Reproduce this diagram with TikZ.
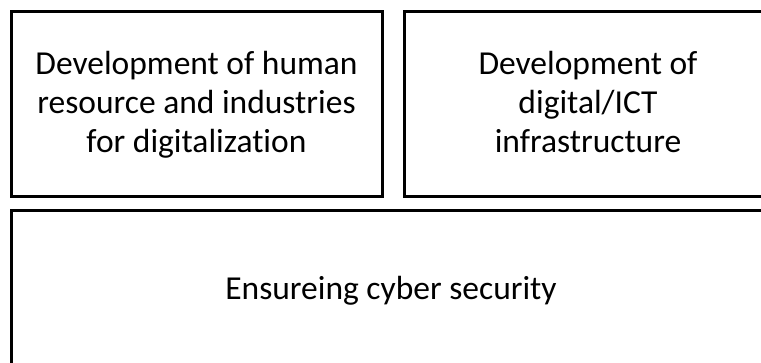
\documentclass[tikz,border=0pt]{standalone}
\usepackage{fontspec}
\setmainfont{Carlito}[Ligatures={NoCommon}]
\begin{document}
\begin{tikzpicture}[x=1pt,y=-1pt,
  boxstyle/.style={draw=black,line width=3pt,fill=white,inner sep=0pt},
  lbl/.style={align=center,inner sep=0pt,font=\fontsize{33.5}{39}\selectfont}]
\useasboundingbox (0,0) rectangle (761,363);
\clip (0,0) rectangle (761,363);
\fill[white] (0,0) rectangle (761,363);
\draw[boxstyle] (11.5,11.5) rectangle (382,196.5);
\draw[boxstyle] (404.5,11.5) rectangle (772,196.5);
\draw[boxstyle] (11.5,210.5) rectangle (772,382);
\node[lbl,anchor=base] (hr) at (196.5,153) {Development of human\\resource and industries\\for digitalization};
\node[lbl,anchor=base] (ict) at (588,153) {Development of\\digital/ICT\\infrastructure};
\node[lbl,anchor=base] (cyber) at (391,300) {Ensureing cyber security};
\end{tikzpicture}
\end{document}
